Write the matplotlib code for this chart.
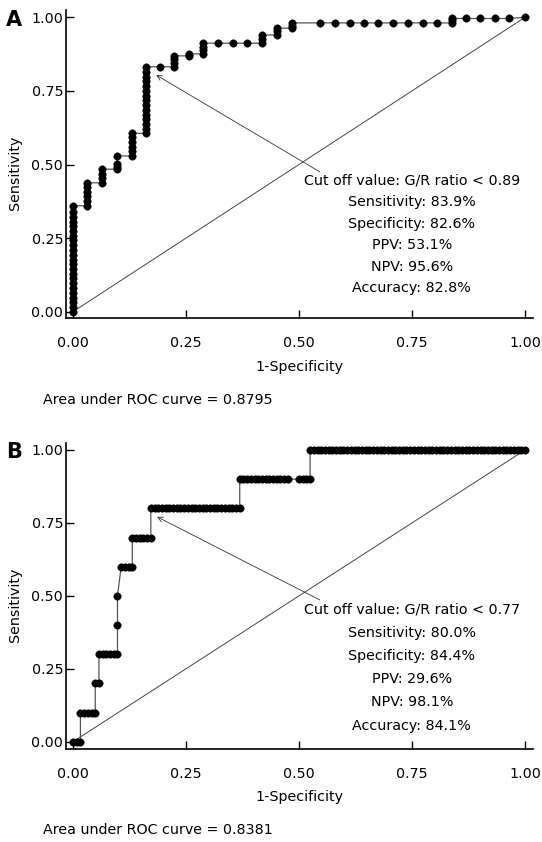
import matplotlib
matplotlib.use("Agg")
import matplotlib.pyplot as plt

plt.rcParams['font.family'] = ['DejaVu Sans']

W, H = 542, 842

# Panel A: ROC points (1-specificity, sensitivity)
fpr_a = [0.000, 0.000, 0.000, 0.000, 0.000, 0.000, 0.000, 0.000, 0.000, 0.000, 0.000, 0.000,
         0.000, 0.000, 0.000, 0.000, 0.000, 0.000, 0.000, 0.000, 0.000, 0.000, 0.000,
         0.032, 0.032, 0.032, 0.032, 0.032, 0.032,
         0.064, 0.064, 0.064, 0.064,
         0.097, 0.097, 0.097, 0.097,
         0.130, 0.130, 0.130, 0.130, 0.130, 0.130,
         0.161, 0.161, 0.161, 0.161, 0.161, 0.161, 0.161, 0.161, 0.161, 0.161, 0.161, 0.161,
         0.161, 0.161, 0.161,
         0.192,
         0.224, 0.224, 0.224, 0.224,
         0.257, 0.257,
         0.288, 0.288, 0.288, 0.288,
         0.320, 0.353, 0.386,
         0.419, 0.419, 0.419,
         0.451, 0.451, 0.451,
         0.484, 0.484, 0.484,
         0.546, 0.580, 0.613, 0.644, 0.675, 0.707, 0.742, 0.774, 0.806,
         0.838, 0.838, 0.838,
         0.869, 0.900, 0.934, 0.965, 1.000]
tpr_a = [0.000, 0.016, 0.032, 0.048, 0.065, 0.081, 0.097, 0.113, 0.129, 0.145, 0.161, 0.177,
         0.194, 0.210, 0.226, 0.242, 0.258, 0.274, 0.290, 0.306, 0.323, 0.339, 0.360,
         0.360, 0.376, 0.392, 0.407, 0.423, 0.438,
         0.438, 0.454, 0.469, 0.484,
         0.484, 0.493, 0.502, 0.529,
         0.529, 0.545, 0.561, 0.577, 0.593, 0.606,
         0.606, 0.621, 0.637, 0.653, 0.669, 0.685, 0.702, 0.718, 0.734, 0.750, 0.766, 0.782,
         0.798, 0.815, 0.832,
         0.832,
         0.832, 0.845, 0.857, 0.869,
         0.869, 0.876,
         0.876, 0.888, 0.900, 0.912,
         0.912, 0.912, 0.912,
         0.912, 0.925, 0.940,
         0.940, 0.952, 0.963,
         0.963, 0.972, 0.981,
         0.981, 0.981, 0.981, 0.981, 0.981, 0.981, 0.981, 0.981, 0.981,
         0.981, 0.990, 0.996,
         0.996, 0.996, 0.996, 0.996, 1.000]

# Panel B: false positive counts (of 122 negatives) at each true positive count (of 10 positives)
n_neg_b = 122
n_pos_b = 10
fp_counts_b = [
    [0, 1, 2],
    [2, 3, 4, 5, 6],
    [6, 7],
    [7, 8, 9, 10, 11, 12],
    [12],
    [12],
    [13, 14, 15, 16],
    [16, 17, 18, 19, 20, 21],
    [21, 22, 23, 24, 25, 26, 27, 28, 29, 30, 31, 32, 33, 34, 35, 36, 37, 38, 39, 40,
     41, 42, 43, 44, 45],
    [45, 46, 47, 48, 49, 50, 51, 52, 53, 54, 55, 56, 57, 58, 61, 62, 63, 64],
    [64, 65, 66, 67, 68, 69, 70, 71, 72, 73, 74, 75, 76, 77, 78, 79, 80, 81, 82, 83,
     84, 85, 86, 87, 88, 89, 90, 91, 92, 93, 94, 95, 96, 97, 98, 99, 100, 101, 102,
     103, 104, 105, 106, 107, 108, 109, 110, 111, 112, 113, 114, 115, 116, 117, 118,
     119, 120, 121, 122],
]

ticks = [0.00, 0.25, 0.50, 0.75, 1.00]

labels_a = ["Cut off value: G/R ratio < 0.89", "Sensitivity: 83.9%", "Specificity: 82.6%",
            "PPV: 53.1%", "NPV: 95.6%", "Accuracy: 82.8%"]
labels_b = ["Cut off value: G/R ratio < 0.77", "Sensitivity: 80.0%", "Specificity: 84.4%",
            "PPV: 29.6%", "NPV: 98.1%", "Accuracy: 84.1%"]
auc_a = "Area under ROC curve = 0.8795"
auc_b = "Area under ROC curve = 0.8381"

fpr_b = []
tpr_b = []
for tp, fps in enumerate(fp_counts_b):
    for fp in fps:
        fpr_b.append(fp / n_neg_b)
        tpr_b.append(tp / n_pos_b)

FS = 10.3


def px(x, y):
    return x / W, 1 - y / H


def draw_panel(ax, fpr, tpr, ylim, head, tail, text_lines, text_y, text_step):
    ax.plot([0, 1], [0, 1], color='#444444', lw=0.7)
    ax.plot(fpr, tpr, color='#555555', lw=0.9, zorder=3)
    ax.plot(fpr, tpr, ls='none', marker='o', ms=5.4,
            mfc='black', mec='black', mew=0.3, zorder=4)
    ax.annotate('', xy=head, xytext=tail,
                arrowprops=dict(arrowstyle='->', lw=0.6, color='#333333',
                                mutation_scale=9, shrinkA=0, shrinkB=0))
    ax.set_xlim(-0.0155, 1.0177)
    ax.set_ylim(*ylim)
    ax.set_xticks(ticks)
    ax.set_yticks(ticks)
    ax.set_xticklabels(['%.2f' % t for t in ticks])
    ax.set_yticklabels(['%.2f' % t for t in ticks])
    ax.tick_params(axis='x', direction='in', length=6, width=1, pad=13, labelsize=FS)
    ax.tick_params(axis='y', direction='in', length=6, width=1, pad=2, labelsize=FS)
    for s in ['top', 'right']:
        ax.spines[s].set_visible(False)
    for s in ['left', 'bottom']:
        ax.spines[s].set_linewidth(1.2)
    for i, line in enumerate(text_lines):
        fig.text(*px(411.7, text_y + i * text_step), line, ha='center', va='center',
                 fontsize=FS)


fig = plt.figure(figsize=(W / 100, H / 100), dpi=100)

ax_a = fig.add_axes([66 / W, 1 - 318.3 / H, 467 / W, 308.3 / H])
draw_panel(ax_a, fpr_a, tpr_a, (-0.0224, 1.0248), (0.184, 0.804), (0.546, 0.475),
           labels_a, 180.7, 21.5)

ax_b = fig.add_axes([66 / W, 1 - 749.3 / H, 467 / W, 306.6 / H])
draw_panel(ax_b, fpr_b, tpr_b, (-0.026, 1.025), (0.186, 0.771), (0.546, 0.486),
           labels_b, 609.3, 23.3)

for (lx, ly, letter) in [(14, 19.5, 'A'), (14, 452.5, 'B')]:
    fig.text(*px(lx, ly), letter, fontsize=15, fontweight='bold', ha='center', va='center')

for yl in [173, 605]:
    fig.text(*px(15, yl), 'Sensitivity', rotation=90, ha='center', va='center', fontsize=FS)

for xl in [367, 797]:
    fig.text(*px(299.5, xl), '1-Specificity', ha='center', va='center', fontsize=FS)

fig.text(*px(43, 400), auc_a, ha='left', va='center', fontsize=FS)
fig.text(*px(43, 830), auc_b, ha='left', va='center', fontsize=FS)

fig.savefig('out.png', dpi=100)
